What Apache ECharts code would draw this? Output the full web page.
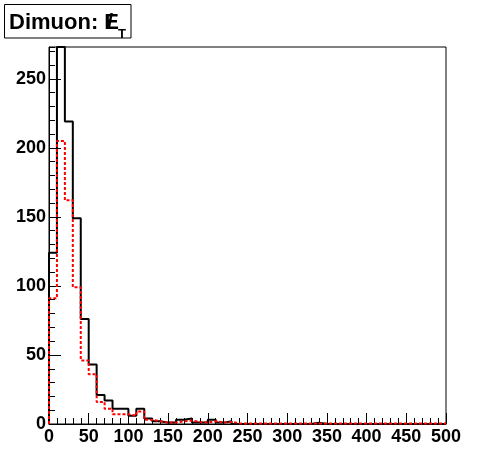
<!DOCTYPE html>
<html><head><meta charset="utf-8">
<script src="https://cdn.jsdelivr.net/npm/echarts@6/dist/echarts.min.js"></script>
<style>html,body{margin:0;padding:0;background:#fff}#c{width:496px;height:472px}</style>
</head><body><div id="c"></div>
<script>
// Histogram: Dimuon missing ET, 50 bins of width 10 from 0 to 500
const binStart = 0;
const binWidth = 10;
const dataCounts = [124, 273, 219, 149, 76, 43, 21, 17, 11, 11,
                    6, 11, 4, 2, 1, 1, 3, 4, 1, 1,
                    3, 1, 2, 0, 0, 0, 0, 0, 0, 0,
                    0, 0, 0, 1, 0, 0, 0, 0, 0, 0,
                    0, 0, 0, 0, 0, 0, 0, 0, 0, 0];
const mcCounts = [91, 205, 162, 99, 46, 36, 16, 11, 7, 7,
                  6, 9, 3, 2, 1, 1, 2, 2.5, 1.5, 1,
                  2, 1, 1.5, 0.5, 0.3, 0.3, 0.3, 0.3, 0.3, 0.3,
                  0.3, 0.3, 0.3, 0.3, 0.3, 0.3, 0.3, 0.3, 0.3, 0.3,
                  0.3, 0.3, 0.3, 0.3, 0.3, 0.3, 0.3, 0.3, 0.3, 0.3];
const xMin = 0, xMax = 500, xStep = 50;
const yMin = 0, yMax = 273, yStep = 50, yMinorStep = 10;

function toSteps(vals) {
  const pts = [[binStart, 0]];
  vals.forEach((v, i) => pts.push([binStart + i * binWidth, v]));
  const end = binStart + vals.length * binWidth;
  pts.push([end, vals[vals.length - 1]]);
  pts.push([end, 0]);
  return pts;
}

const FONT = 'Liberation Sans';
const lbl = { color: '#000', fontFamily: FONT, fontWeight: 'bold', fontSize: 18 };

const chart = echarts.init(document.getElementById('c'), null, { renderer: 'canvas' });
chart.setOption({
  backgroundColor: '#fff',
  animation: false,
  grid: { left: 49, right: 50, top: 47, bottom: 48, show: true, borderColor: '#000', borderWidth: 1, backgroundColor: '#fff' },
  xAxis: [{
    type: 'value', min: xMin, max: xMax, interval: xStep,
    axisLine: { show: true, lineStyle: { color: '#000', width: 1 } },
    axisTick: { show: true, inside: true, length: 11, lineStyle: { color: '#000', width: 1 } },
    minorTick: { show: true, splitNumber: 5, length: 6, lineStyle: { color: '#000', width: 1 } },
    splitLine: { show: false },
    axisLabel: Object.assign({ margin: 4 }, lbl)
  }],
  yAxis: [{
    type: 'value', min: yMin, max: yMax, interval: yStep,
    axisLine: { show: true, lineStyle: { color: '#000', width: 1 } },
    axisTick: { show: true, inside: true, length: 12, lineStyle: { color: '#000', width: 1 } },
    splitLine: { show: false },
    axisLabel: Object.assign({ margin: 3, showMaxLabel: false,
      formatter: v => (v % yStep === 0 ? String(v) : '') }, lbl)
  }, {
    type: 'value', min: yMin, max: yMax, interval: yMinorStep, position: 'left', offset: 0,
    axisLine: { show: false },
    axisTick: { show: true, inside: true, length: 6, lineStyle: { color: '#000', width: 1 } },
    splitLine: { show: false },
    axisLabel: { show: false }
  }],
  graphic: [{
    type: 'rect', shape: { x: 4.5, y: 4.5, width: 126.5, height: 33.5 },
    style: { fill: '#fff', stroke: '#000', lineWidth: 1 }, z: 100
  }, {
    type: 'text', x: 9, y: 23, z: 101,
    style: { text: 'Dimuon: E', fill: '#000', font: 'bold 22px "Liberation Sans"', verticalAlign: 'middle', align: 'left' }
  }, {
    type: 'text', x: 107, y: 23, z: 102,
    style: { text: '/', fill: '#000', font: 'bold 22px "Liberation Sans"', verticalAlign: 'middle', align: 'left' }
  }, {
    type: 'text', x: 118, y: 34, z: 101,
    style: { text: 'T', fill: '#000', font: 'bold 13px "Liberation Sans"', verticalAlign: 'middle', align: 'left' }
  }],
  series: [{
    type: 'line', step: 'end', xAxisIndex: 0, yAxisIndex: 0, data: toSteps(dataCounts),
    symbol: 'none', lineStyle: { color: '#000', width: 2 }, z: 3
  }, {
    type: 'line', step: 'end', xAxisIndex: 0, yAxisIndex: 0, data: toSteps(mcCounts),
    symbol: 'none', lineStyle: { color: '#ff0000', width: 2, type: [3, 2] }, z: 4
  }]
});
</script></body></html>
